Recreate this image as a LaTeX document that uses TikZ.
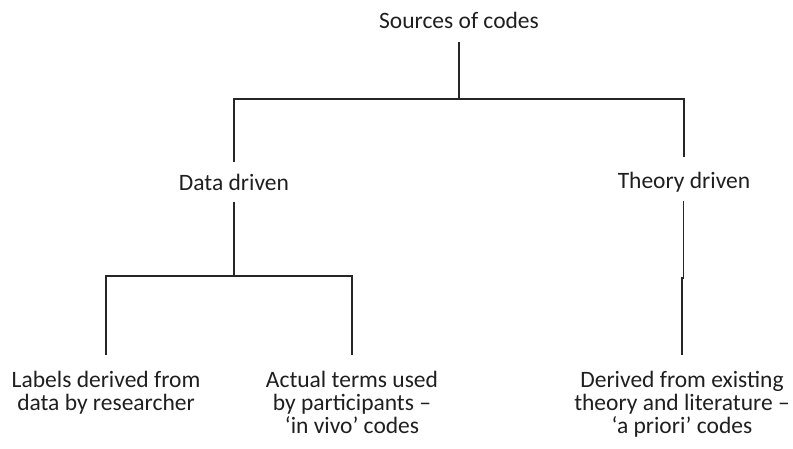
\documentclass[tikz,border=0pt]{standalone}
\usepackage{fontspec}
\setmainfont{Carlito}
\begin{document}
\begin{tikzpicture}[x=1pt,y=-1pt,
  lbl/.style={inner sep=0pt, align=center, text=black!88,
    font=\fontsize{23.5}{23}\selectfont},
  wire/.style={draw=black!85, line width=1.3pt}]
\useasboundingbox (0,0) rectangle (793,448);
% labels
\node[lbl] (root) at (459,20) {Sources of codes};
\node[lbl] (data) at (234,182) {Data driven};
\node[lbl] (theory) at (684,182) {Theory driven};
\node[lbl, anchor=north] (labels) at (106,371) {Labels derived from\\data by researcher};
\node[lbl, anchor=north] (terms) at (352,371) {Actual terms used\\by participants --\\‘in vivo’ codes};
\node[lbl, anchor=north] (lit) at (682,371) {Derived from existing\\theory and literature --\\‘a priori’ codes};
% junction points
\coordinate (j1) at (459,99);
\coordinate (j2) at (234,276);
% top level
\draw[wire] (459,42) -- (j1);
\draw[wire] (234,162) |- (j1) -| (684,157);
% data driven branch
\draw[wire] (234,202) -- (j2);
\draw[wire] (106,355) |- (j2) -| (352,355);
% theory driven branch
\draw[wire] (683.5,201) -- (683.5,278) -- (682,278) -- (682,355);
\end{tikzpicture}
\end{document}
